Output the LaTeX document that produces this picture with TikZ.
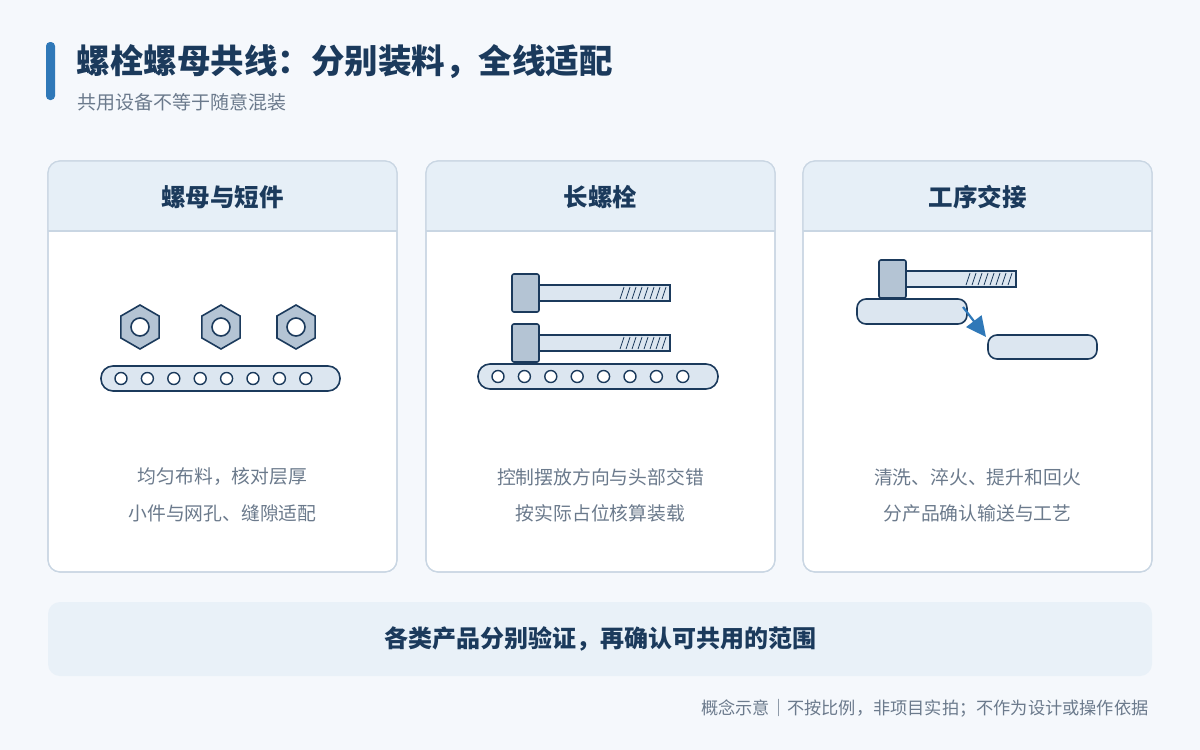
\documentclass[tikz,border=0pt]{standalone}
\usepackage{fontspec}
\setmainfont{Noto Sans CJK SC}
\usetikzlibrary{arrows.meta}
\definecolor{ink}{HTML}{1B3A5C}
\definecolor{bg}{HTML}{F5F8FC}
\definecolor{band}{HTML}{E6EFF7}
\definecolor{rim}{HTML}{C9D6E3}
\definecolor{grey}{HTML}{6B7A8C}
\definecolor{steel}{HTML}{B4C4D4}
\definecolor{pale}{HTML}{DCE6F0}
\definecolor{accent}{HTML}{2F78B8}
\tikzset{
 part/.style={draw=ink,line width=1.6pt,fill=pale},
 card/.style={draw=rim,line width=1.2pt,fill=white,rounded corners=12pt},
 head/.style={font=\fontsize{24.5}{28}\selectfont\bfseries,text=ink},
 note/.style={font=\fontsize{18.8}{22}\selectfont,text=grey},
}
\newcommand{\belt}[3]{% x0, x1, y top
 \draw[part,rounded corners=12pt] (#1,#3) rectangle (#2,#3+25);
 \foreach \k in {0,...,7}
  \draw[draw=ink,line width=1.4pt,fill=white] (#1+20+26.4*\k,#3+12.5) circle (6);
}
\newcommand{\bolt}[3]{% head x, head top y, shaft end x
 \draw[part] (#1+27,#2+11) rectangle (#3,#2+27);
 \foreach \t in {0,...,7} \draw[ink,line width=0.8pt] (#3-50+6*\t,#2+25) -- (#3-46+6*\t,#2+13);
 \draw[draw=ink,line width=1.6pt,fill=steel,rounded corners=2pt] (#1,#2) rectangle (#1+27,#2+38);
}
\begin{document}
\begin{tikzpicture}[x=1pt,y=-1pt]
 \fill[bg] (0,0) rectangle (1200,750);
 \useasboundingbox (0,0) rectangle (1200,750);

% Title
 \fill[accent,rounded corners=4pt] (46,42) rectangle (55,100);
 \node[anchor=west,font=\fontsize{33.5}{38}\selectfont\bfseries,text=ink] (title) at (73,62) {螺栓螺母共线：分别装料，全线适配};
 \node[anchor=west,font=\fontsize{19}{22}\selectfont,text=grey] (sub) at (74,102) {共用设备不等于随意混装};

% Cards
 \foreach \x/\name/\a/\b in {48/螺母与短件/均匀布料，核对层厚/小件与网孔、缝隙适配,
                             426/长螺栓/控制摆放方向与头部交错/按实际占位核算装载,
                             803/工序交接/清洗、淬火、提升和回火/分产品确认输送与工艺} {
  \draw[card] (\x,161) rectangle (\x+349,572);
  \begin{scope}
   \clip[rounded corners=12pt] (\x,161) rectangle (\x+349,572);
   \fill[band] (\x,161) rectangle (\x+349,231);
  \end{scope}
  \draw[rim,line width=1.2pt] (\x,231) -- (\x+349,231);
  \draw[card,fill=none] (\x,161) rectangle (\x+349,572);
  \node[head] at (\x+174.5,197) {\name};
  \node[note] at (\x+174.5,477) {\a};
  \node[note] at (\x+174.5,513) {\b};
 }

% Nuts
 \foreach \nx in {140,221,296} {
  \draw[draw=ink,line width=1.6pt,fill=steel] (\nx,327) +(90:22) -- +(150:22) -- +(210:22) -- +(270:22) -- +(330:22) -- +(30:22) -- cycle;
  \draw[draw=ink,line width=1.6pt,fill=white] (\nx,327) circle (9);
 }
 \belt{101}{340}{366}

% Long bolts
 \bolt{512}{274}{670}
 \bolt{512}{324}{670}
 \belt{478}{718}{364}

% Hand-over
 \bolt{879}{260}{1016}
 \draw[part,rounded corners=9pt] (857,299) rectangle (967,324);
 \draw[part,rounded corners=9pt] (988,335) rectangle (1097,359);
 \coordinate (from) at (963,307);
 \coordinate (to) at (986,337);
 \draw[accent,line width=2.2pt,-{Triangle[length=20pt,width=19pt]}] (from) -- (to);

% Bottom band
 \fill[band!80!bg,rounded corners=12pt] (48,602) rectangle (1152,676);
 \node[font=\fontsize{24}{28}\selectfont\bfseries,text=ink] (sum) at (600,639) {各类产品分别验证，再确认可共用的范围};
 \node[anchor=east,font=\fontsize{17.2}{20}\selectfont,text=grey] (foot) at (1152,708) {概念示意｜不按比例，非项目实拍；不作为设计或操作依据};
\end{tikzpicture}
\end{document}
